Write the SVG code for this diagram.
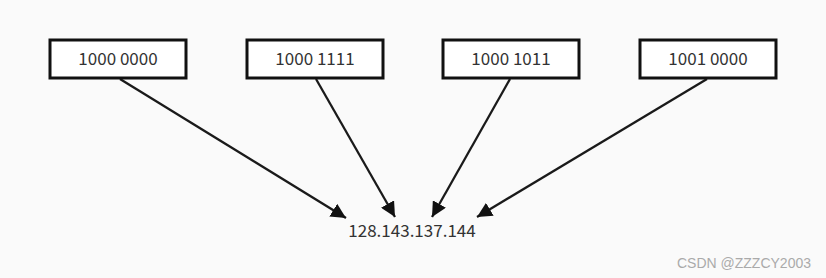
<svg xmlns="http://www.w3.org/2000/svg" width="826" height="278" viewBox="0 0 826 278">
<defs>
<style>
.box{fill:#ffffff;stroke:#111;stroke-width:3}
.lbl{font-family:"Noto Sans CJK SC","Noto Sans",sans-serif;font-size:17px;fill:#333;text-anchor:middle}
.edge{stroke:#1a1a1a;stroke-width:2.3;fill:none;marker-end:url(#ah)}
.wm{font-family:"Liberation Sans",Arial,sans-serif;font-size:14px;fill:#aaa}
</style>
<marker id="ah" viewBox="0 0 10 10" refX="10" refY="5" markerWidth="6.5" markerHeight="6.5" markerUnits="strokeWidth" orient="auto">
<path d="M0,0 L10,5 L0,10 Z" fill="#111"/>
</marker>
</defs>
<rect width="826" height="278" fill="#fafafa"/>
<g id="connectors">
<line class="edge" x1="120" y1="79" x2="346" y2="218"/>
<line class="edge" x1="316" y1="79" x2="395" y2="217"/>
<line class="edge" x1="510" y1="79" x2="432" y2="217"/>
<line class="edge" x1="707" y1="79" x2="477" y2="217"/>
</g>
<g id="n1"><rect class="box" x="50" y="40" width="136" height="38"/><text class="lbl" x="118" y="65">1000 0000</text></g>
<g id="n2"><rect class="box" x="247" y="40" width="136" height="38"/><text class="lbl" x="315" y="65">1000 1111</text></g>
<g id="n3"><rect class="box" x="443" y="40" width="136" height="38"/><text class="lbl" x="511" y="65">1000 1011</text></g>
<g id="n4"><rect class="box" x="640" y="40" width="136" height="38"/><text class="lbl" x="708" y="65">1001 0000</text></g>
<g id="target"><text class="lbl" x="412" y="237">128.143.137.144</text></g>
<text class="wm" x="811" y="268" text-anchor="end">CSDN @ZZZCY2003</text>
</svg>
